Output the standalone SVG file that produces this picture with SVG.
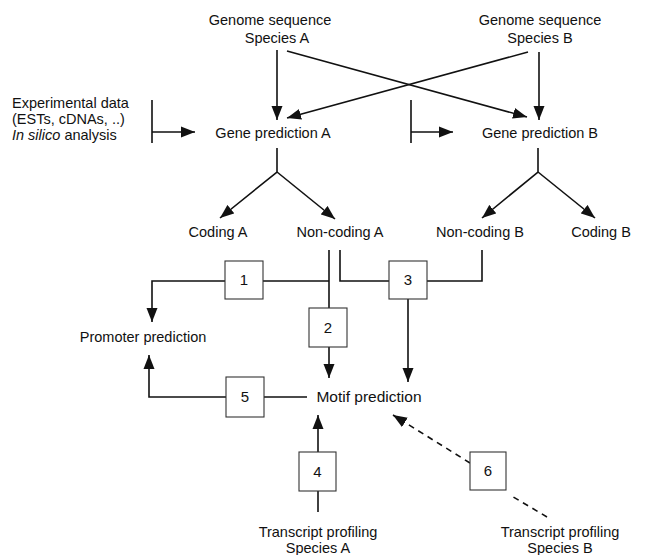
<svg xmlns="http://www.w3.org/2000/svg" width="649" height="555" viewBox="0 0 649 555">
<style>
text{font-family:"Liberation Sans",Arial,sans-serif;font-size:14.5px;fill:#111}
.c{text-anchor:middle}
.ln{stroke:#111;stroke-width:1.6;fill:none}
.dash{stroke-dasharray:6 5}
.box{fill:#fff;stroke:#333;stroke-width:1.1}
.num{font-size:15px;text-anchor:middle}
</style>
<defs>
<marker id="ah" markerUnits="userSpaceOnUse" markerWidth="14" markerHeight="12" refX="14" refY="6" orient="auto">
<path d="M0,0.5 L14,6 L0,11.5 z" fill="#111"/>
</marker>
</defs>
<rect width="649" height="555" fill="#fff"/>
<g id="connectors">
<path class="ln" d="M277,50 V120" marker-end="url(#ah)"/>
<path class="ln" d="M539,52 V120" marker-end="url(#ah)"/>
<path class="ln" d="M287,51 L527,117" marker-end="url(#ah)"/>
<path class="ln" d="M528,52 L287,118" marker-end="url(#ah)"/>
<path class="ln" d="M152,100 V143 M152,132 H195" marker-end="url(#ah)"/>
<path class="ln" d="M411,100 V143 M411,132 H453" marker-end="url(#ah)"/>
<path class="ln" d="M277,148 V172 L220,218" marker-end="url(#ah)"/>
<path class="ln" d="M277,172 L335,219" marker-end="url(#ah)"/>
<path class="ln" d="M538,148 V172 L482,218" marker-end="url(#ah)"/>
<path class="ln" d="M538,172 L595,218" marker-end="url(#ah)"/>
<path class="ln" d="M329,250 V378" marker-end="url(#ah)"/>
<path class="ln" d="M329,281 H152 V322" marker-end="url(#ah)"/>
<path class="ln" d="M340,250 V281 H482 V250"/>
<path class="ln" d="M408,281 V382" marker-end="url(#ah)"/>
<path class="ln" d="M307,397 H149 V355" marker-end="url(#ah)"/>
<path class="ln" d="M318,512 V415" marker-end="url(#ah)"/>
<path class="ln dash" d="M547,517 L510,495"/>
<path class="ln dash" d="M470,463 L393,415" marker-end="url(#ah)"/>
</g>
<g id="genomeA"><text class="c" x="270" y="25">Genome sequence</text><text class="c" x="277" y="43">Species A</text></g>
<g id="genomeB"><text class="c" x="540" y="25">Genome sequence</text><text class="c" x="540" y="43">Species B</text></g>
<g id="experimental"><text x="12" y="108">Experimental data</text><text x="12" y="124">(ESTs, cDNAs, ..)</text><text x="12" y="140"><tspan font-style="italic">In silico</tspan> analysis</text></g>
<g id="geneA"><text class="c" x="273" y="138">Gene prediction A</text></g>
<g id="geneB"><text class="c" x="540" y="138">Gene prediction B</text></g>
<g id="codingA"><text class="c" x="218" y="237">Coding A</text></g>
<g id="noncodingA"><text class="c" x="340" y="237">Non-coding A</text></g>
<g id="noncodingB"><text class="c" x="480" y="237">Non-coding B</text></g>
<g id="codingB"><text class="c" x="601" y="237">Coding B</text></g>
<g id="promoter"><text class="c" x="143" y="342">Promoter prediction</text></g>
<g id="motif"><text class="c" x="369" y="402" style="font-size:15.5px">Motif prediction</text></g>
<g id="transA"><text class="c" x="318" y="537">Transcript profiling</text><text class="c" x="318" y="553">Species A</text></g>
<g id="transB"><text class="c" x="560" y="537">Transcript profiling</text><text class="c" x="560" y="553">Species B</text></g>
<g id="box1"><rect class="box" x="225" y="261" width="38" height="38"/><text class="num" x="244" y="285">1</text></g>
<g id="box2"><rect class="box" x="309" y="308" width="38" height="39"/><text class="num" x="328" y="333">2</text></g>
<g id="box3"><rect class="box" x="389" y="261" width="38" height="38"/><text class="num" x="408" y="285">3</text></g>
<g id="box4"><rect class="box" x="299" y="452" width="37" height="39"/><text class="num" x="317.5" y="477">4</text></g>
<g id="box5"><rect class="box" x="226" y="377" width="38" height="40"/><text class="num" x="245" y="402">5</text></g>
<g id="box6"><rect class="box" x="470" y="452" width="36" height="38"/><text class="num" x="488" y="476">6</text></g>
</svg>
